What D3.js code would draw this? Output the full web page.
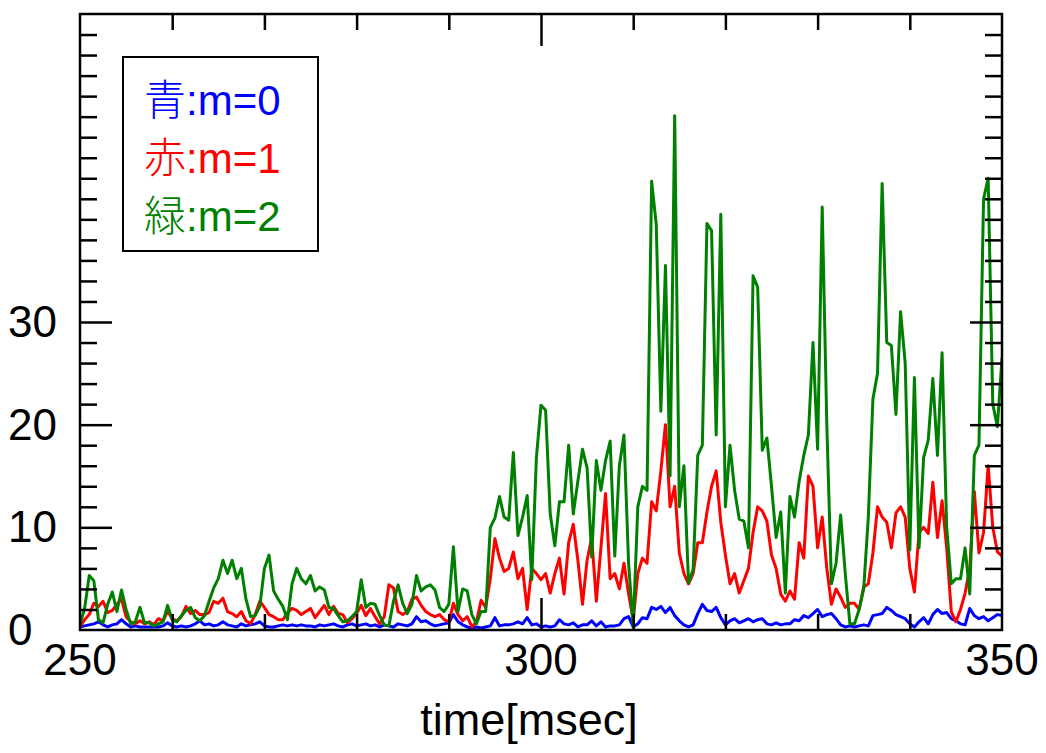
<!DOCTYPE html>
<html>
<head>
<meta charset="utf-8">
<script src="https://cdn.jsdelivr.net/npm/d3@7"></script>
<style>
  body { margin: 0; background: #fff; }
  .tick-label, .label { font-family: 'Liberation Sans', Arial, sans-serif; fill: #000; }
  .legend text { font-family: 'Liberation Sans', Arial, sans-serif; }
  .kanji { font-family: 'Noto Sans CJK JP', sans-serif; font-weight: 300; }
</style>
</head>
<body>
<svg id="chart" width="1046" height="753"></svg>
<script>
// samples every 0.5 msec from 250 to 350
const tStart = 250;
const tStep = 0.5;

// 青 : m=0
const blue = [
  0.3, 0.4, 0.5, 0.6, 0.8, 0.5, 0.3, 0.5, 0.6, 1.0, 0.6, 0.3, 0.4, 0.3, 0.3, 0.3, 0.3, 0.3, 0.4, 0.7, 0.4,
  0.3, 0.4, 0.3, 0.4, 0.6, 0.9, 0.5, 0.6, 0.4, 0.5, 0.8, 0.5, 0.4, 0.3, 0.6, 0.4, 0.5, 0.6, 0.8, 0.4,
  0.3, 0.3, 0.4, 0.5, 0.4, 0.5, 0.4, 0.5, 0.4, 0.4, 0.3, 0.5, 0.4, 0.5, 0.6, 0.4, 0.3, 0.5, 0.6, 0.4,
  0.5, 0.6, 0.4, 0.5, 0.3, 0.5, 0.4, 0.3, 0.6, 0.5, 0.4, 0.6, 1.3, 0.8, 0.9, 0.6, 0.4, 0.5, 0.6, 0.7,
  1.5, 0.8, 0.5, 0.3, 0.2, 0.3, 0.2, 0.3, 0.4, 1.2, 0.4, 0.5, 0.5, 0.6, 0.8, 0.6, 1.2, 0.5, 0.6, 0.3,
  0.4, 0.3, 0.4, 1.0, 0.6, 0.5, 0.7, 0.3, 0.5, 0.5, 0.9, 0.4, 0.8, 0.3, 0.4, 0.4, 0.5, 1.1, 1.3, 0.3,
  0.6, 1.2, 1.1, 2.2, 2.0, 2.3, 1.7, 2.2, 1.4, 0.9, 0.5, 0.3, 0.5, 1.6, 2.5, 1.9, 1.8, 2.2, 1.2, 0.5,
  0.9, 1.1, 0.7, 0.9, 1.1, 0.8, 1.0, 1.1, 0.6, 0.5, 0.7, 0.5, 0.6, 0.6, 1.0, 0.9, 1.4, 1.2, 1.6, 2.0,
  1.3, 1.5, 1.6, 1.1, 0.5, 0.3, 0.4, 0.3, 0.4, 0.5, 0.4, 1.4, 1.5, 1.6, 2.2, 1.9, 1.5, 1.3, 1.1, 0.6,
  0.3, 0.8, 1.2, 0.6, 1.5, 2.0, 1.6, 1.7, 1.1, 0.9, 0.6, 0.5, 2.1, 1.4, 1.1, 1.3, 0.9, 1.2, 1.5, 1.4
];

// 赤 : m=1
const red = [
  0.3, 1.0, 1.5, 2.6, 2.3, 2.8, 1.7, 1.9, 2.5, 3.0, 1.3, 0.8, 0.6, 0.9, 0.6, 0.8, 0.5, 1.1, 0.9, 1.8, 1.1,
  0.9, 1.3, 2.3, 1.6, 1.9, 1.5, 1.5, 1.7, 2.8, 2.6, 3.1, 1.8, 1.6, 1.3, 1.8, 0.9, 0.6, 1.5, 2.8, 2.2,
  1.5, 1.3, 1.0, 1.0, 1.7, 2.1, 1.9, 1.5, 1.8, 2.1, 1.2, 1.8, 2.4, 1.5, 2.3, 1.6, 1.5, 0.7, 1.1, 1.6,
  2.4, 1.4, 2.1, 1.3, 0.6, 1.3, 4.4, 4.1, 1.8, 1.5, 1.8, 3.0, 3.2, 2.4, 1.8, 1.5, 1.3, 1.5, 1.0, 0.8,
  2.6, 1.5, 0.9, 1.3, 0.3, 0.8, 2.9, 2.2, 5.0, 8.9, 7.0, 5.7, 6.0, 7.6, 5.0, 6.0, 2.0, 6.0, 5.5, 4.9,
  5.5, 3.6, 5.5, 7.0, 3.5, 8.5, 10.3, 6.8, 2.5, 6.8, 9.0, 2.8, 8.0, 13.3, 5.0, 5.5, 4.0, 6.5, 3.5, 1.0,
  5.5, 7.0, 6.5, 12.5, 11.6, 15.5, 20.0, 12.0, 14.0, 7.5, 5.5, 4.5, 5.5, 8.5, 8.5, 11.5, 14.0, 15.5, 10.5, 7.3,
  4.5, 5.5, 3.6, 4.8, 6.0, 9.5, 12.0, 11.6, 10.6, 7.3, 6.0, 3.5, 2.8, 3.8, 3.0, 8.5, 7.0, 15.0, 14.0, 8.0,
  11.0, 6.0, 2.5, 4.0, 3.2, 2.2, 2.6, 2.6, 2.0, 4.2, 4.5, 7.5, 12.0, 11.0, 10.5, 8.0, 11.4, 12.0, 11.0, 6.0,
  3.7, 9.5, 10.0, 9.4, 14.4, 9.0, 12.6, 8.0, 1.8, 0.8, 2.0, 3.6, 6.0, 13.5, 7.5, 9.5, 16.0, 10.0, 7.6, 7.2
];

// 緑 : m=2
const green = [
  0.5, 2.1, 5.3, 4.8, 1.0, 0.7, 2.5, 3.7, 1.8, 3.9, 2.0, 0.6, 0.8, 2.2, 0.7, 0.7, 0.4, 0.6, 0.8, 2.4, 1.0,
  0.8, 1.4, 1.9, 2.2, 1.2, 0.9, 1.4, 2.8, 4.1, 5.0, 6.8, 5.5, 6.8, 5.0, 6.0, 3.0, 1.3, 1.4, 2.3, 6.0,
  7.3, 3.8, 3.0, 2.3, 1.0, 4.5, 6.0, 5.0, 4.5, 5.3, 3.8, 4.2, 3.9, 2.2, 2.1, 1.4, 0.8, 0.9, 1.3, 1.8,
  4.9, 2.2, 2.6, 2.5, 1.4, 0.5, 0.4, 2.8, 4.4, 2.6, 1.6, 2.5, 5.3, 3.8, 4.2, 4.4, 3.9, 2.2, 1.8, 2.5,
  8.1, 1.8, 4.0, 3.8, 1.5, 0.6, 1.8, 1.8, 10.0, 10.9, 13.0, 11.0, 10.7, 17.3, 9.2, 11.0, 13.1, 4.9, 16.8, 21.9,
  21.4, 11.3, 8.2, 12.5, 12.5, 18.0, 11.3, 14.5, 17.6, 15.8, 7.1, 16.5, 13.6, 16.5, 18.4, 7.2, 16.0, 19.0, 6.5, 0.3,
  12.0, 14.0, 13.6, 43.7, 39.5, 21.3, 35.5, 15.0, 50.1, 12.0, 16.0, 4.6, 5.9, 17.0, 18.0, 39.6, 38.9, 19.0, 40.5, 12.0,
  18.0, 13.6, 10.8, 10.6, 8.0, 34.5, 33.4, 17.5, 18.7, 14.0, 9.0, 11.5, 3.6, 13.0, 11.0, 14.5, 17.0, 19.0, 28.0, 17.6,
  41.2, 20.0, 4.5, 6.5, 11.2, 5.5, 0.6, 0.6, 2.0, 4.0, 11.0, 22.5, 25.0, 43.5, 28.0, 27.7, 21.0, 31.0, 26.0, 7.8,
  24.6, 8.0, 16.8, 18.5, 24.5, 17.0, 27.0, 10.0, 4.5, 5.0, 5.0, 8.0, 3.5, 17.0, 18.0, 42.0, 44.0, 22.0, 19.8, 26.5
];

const xTickLabels = [250, 300, 350];
const yTickLabels = [0, 10, 20, 30];
const legendItems = [
  { kanji: '青', rest: ':m=0', color: '#0000ff' },
  { kanji: '赤', rest: ':m=1', color: '#ff0000' },
  { kanji: '緑', rest: ':m=2', color: '#008000' }
];

const svg = d3.select('#chart');

// plot box
const plotLeft = 80, plotRight = 1002, plotTop = 14, plotBottom = 630;

const xScale = d3.scaleLinear().domain([250, 350]).range([plotLeft, plotRight]);
const yScale = d3.scaleLinear().domain([0, 60]).range([plotBottom, plotTop]);

const series = [
  { values: blue, color: '#0000ff' },
  { values: red, color: '#ff0000' },
  { values: green, color: '#008000' }
];

svg.append('defs').append('clipPath').attr('id', 'plot-clip')
  .append('rect')
  .attr('x', plotLeft).attr('y', plotTop)
  .attr('width', plotRight - plotLeft).attr('height', plotBottom - plotTop);

const line = d3.line()
  .x((d, i) => xScale(tStart + i * tStep))
  .y((d) => yScale(d));

const lines = svg.append('g').attr('clip-path', 'url(#plot-clip)');
lines.selectAll('path')
  .data(series)
  .enter()
  .append('path')
  .attr('d', (s) => line(s.values))
  .attr('fill', 'none')
  .attr('stroke', (s) => s.color)
  .attr('stroke-width', 3)
  .attr('stroke-linejoin', 'round');

// inward ticks on all four sides
const tickStyle = (g) => {
  g.select('.domain').remove();
  g.selectAll('.tick line').attr('stroke', '#000').attr('stroke-width', 2.5);
  g.selectAll('.tick text').remove();
};

const xMinor = d3.range(260, 350, 10).filter((v) => v !== 300);
const yMinor = d3.range(2, 60, 2).filter((v) => v % 10 !== 0 || v > 30);

svg.append('g').attr('transform', `translate(0,${plotBottom})`)
  .call(d3.axisTop(xScale).tickValues(xMinor).tickSize(16)).call(tickStyle);
svg.append('g').attr('transform', `translate(0,${plotBottom})`)
  .call(d3.axisTop(xScale).tickValues([300]).tickSize(32)).call(tickStyle);
svg.append('g').attr('transform', `translate(0,${plotTop})`)
  .call(d3.axisBottom(xScale).tickValues(xMinor).tickSize(16)).call(tickStyle);
svg.append('g').attr('transform', `translate(0,${plotTop})`)
  .call(d3.axisBottom(xScale).tickValues([300]).tickSize(32)).call(tickStyle);

svg.append('g').attr('transform', `translate(${plotLeft},0)`)
  .call(d3.axisRight(yScale).tickValues(yMinor).tickSize(17)).call(tickStyle);
svg.append('g').attr('transform', `translate(${plotLeft},0)`)
  .call(d3.axisRight(yScale).tickValues([10, 20, 30]).tickSize(32)).call(tickStyle);
svg.append('g').attr('transform', `translate(${plotRight},0)`)
  .call(d3.axisLeft(yScale).tickValues(yMinor).tickSize(17)).call(tickStyle);
svg.append('g').attr('transform', `translate(${plotRight},0)`)
  .call(d3.axisLeft(yScale).tickValues([10, 20, 30]).tickSize(32)).call(tickStyle);

// frame
svg.append('rect')
  .attr('x', plotLeft).attr('y', plotTop)
  .attr('width', plotRight - plotLeft).attr('height', plotBottom - plotTop)
  .attr('fill', 'none')
  .attr('stroke', '#000')
  .attr('stroke-width', 2.5);

// tick labels
svg.selectAll('.xlab')
  .data(xTickLabels)
  .enter()
  .append('text')
  .attr('class', 'tick-label')
  .attr('x', (d) => xScale(d))
  .attr('y', 675)
  .attr('text-anchor', 'middle')
  .attr('font-size', 44)
  .text((d) => d);

svg.selectAll('.ylab')
  .data(yTickLabels)
  .enter()
  .append('text')
  .attr('class', 'tick-label')
  .attr('x', 8)
  .attr('y', (d) => yScale(d) + 15)
  .attr('text-anchor', 'start')
  .attr('font-size', 44)
  .text((d) => d);

svg.append('text')
  .attr('class', 'label')
  .attr('x', 529)
  .attr('y', 735)
  .attr('text-anchor', 'middle')
  .attr('font-size', 45)
  .text('time[msec]');

// legend
const legend = svg.append('g').attr('class', 'legend');
legend.append('rect')
  .attr('x', 123).attr('y', 57)
  .attr('width', 195).attr('height', 194)
  .attr('fill', '#fff')
  .attr('stroke', '#000')
  .attr('stroke-width', 2);

const legendText = legend.selectAll('text')
  .data(legendItems)
  .enter()
  .append('text')
  .attr('x', 144)
  .attr('y', (d, i) => 115 + i * 58)
  .attr('font-size', 42)
  .attr('fill', (d) => d.color);
legendText.append('tspan').attr('class', 'kanji').text((d) => d.kanji);
legendText.append('tspan').text((d) => d.rest);
</script>
</body>
</html>
